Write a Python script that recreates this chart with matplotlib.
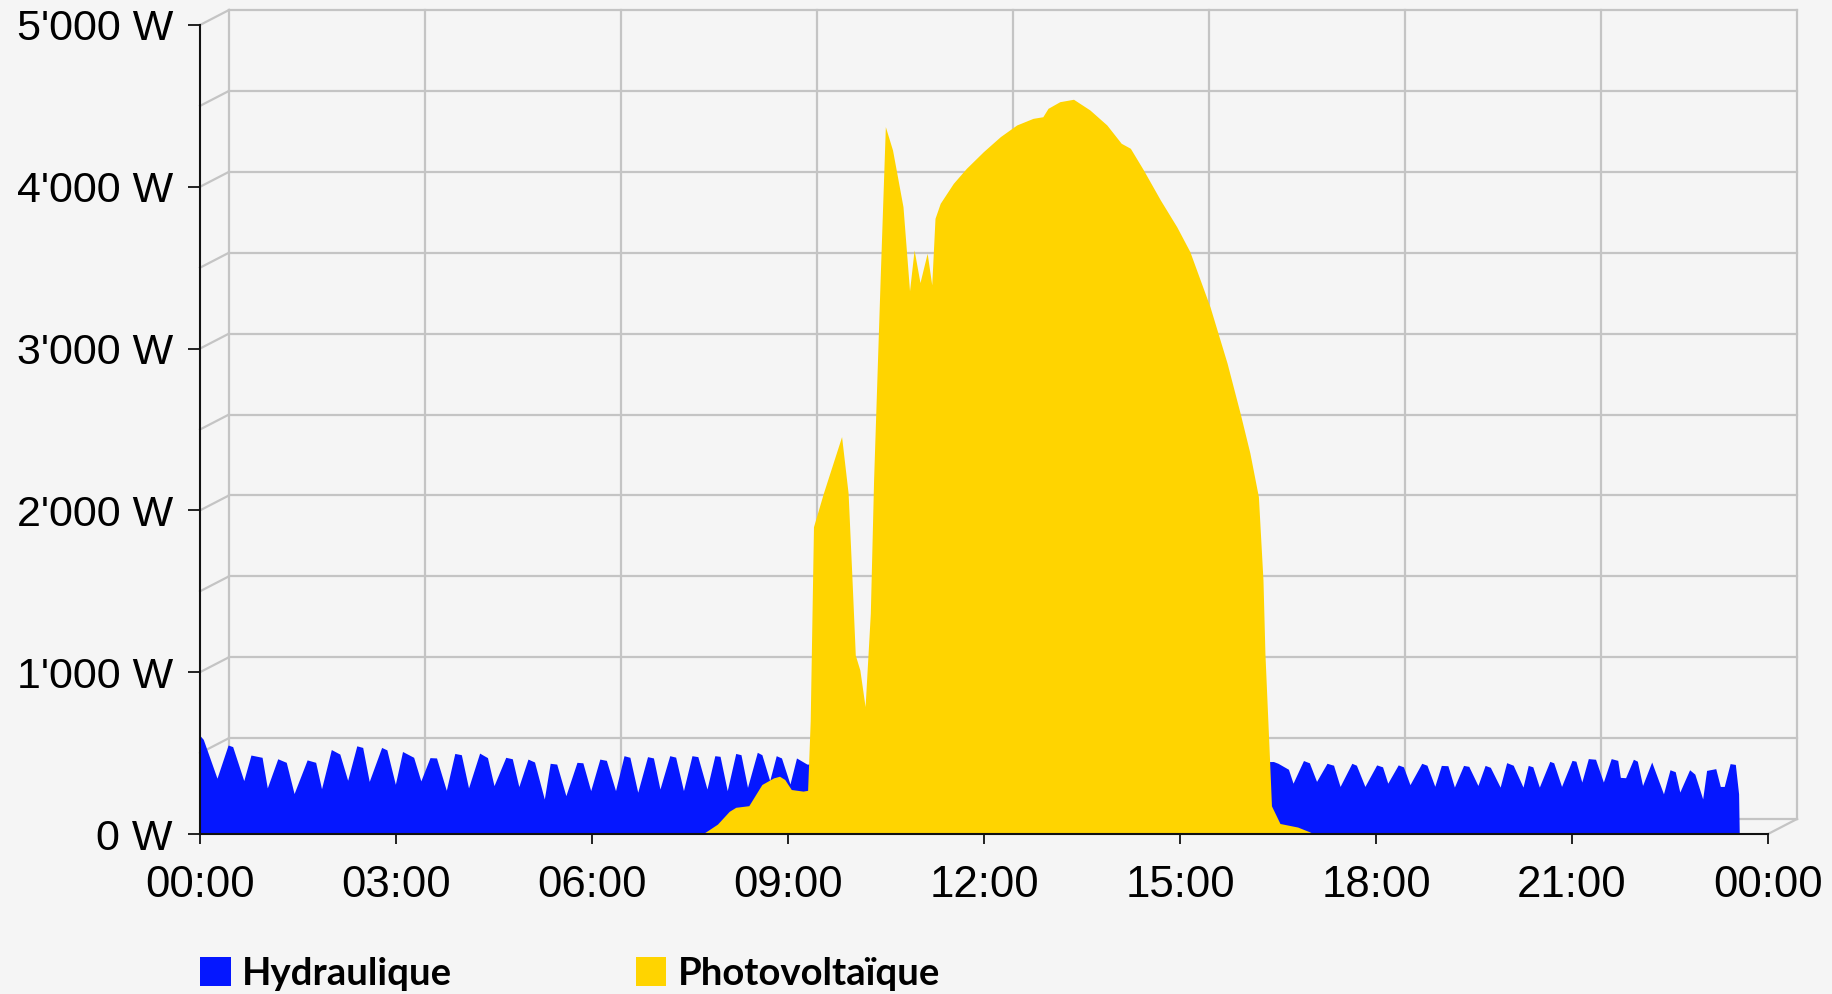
import numpy as np
import matplotlib
matplotlib.use('Agg')
from matplotlib import pyplot as plt
from matplotlib import font_manager
from matplotlib.patches import Patch
from matplotlib.lines import Line2D

# Hydraulique: hour of day, power in W
hydro_h = [0.00, 0.05, 0.26, 0.43, 0.50, 0.67, 0.78, 0.95, 1.03, 1.19, 1.32, 1.44,
           1.64, 1.77, 1.86, 2.01, 2.14, 2.26, 2.40, 2.49, 2.59, 2.78, 2.86, 2.99,
           3.10, 3.27, 3.38, 3.52, 3.62, 3.77, 3.90, 4.00, 4.11, 4.28, 4.40, 4.50,
           4.68, 4.78, 4.88, 5.02, 5.12, 5.27, 5.36, 5.46, 5.60, 5.77, 5.86, 5.98,
           6.12, 6.22, 6.36, 6.49, 6.58, 6.70, 6.85, 6.94, 7.04, 7.19, 7.28, 7.40,
           7.53, 7.62, 7.76, 7.88, 7.96, 8.07, 8.20, 8.28, 8.38, 8.53, 8.60, 8.72,
           8.82, 8.90, 9.03, 9.13, 9.29, 12.90,
           16.43, 16.50, 16.66, 16.73, 16.89, 16.98, 17.09, 17.25, 17.35, 17.45,
           17.63, 17.70, 17.83, 18.01, 18.10, 18.18, 18.34, 18.42, 18.52, 18.70,
           18.78, 18.90, 19.00, 19.10, 19.20, 19.34, 19.42, 19.56, 19.67, 19.75,
           19.90, 20.00, 20.10, 20.25, 20.33, 20.40, 20.50, 20.66, 20.72, 20.84,
           21.00, 21.06, 21.15, 21.25, 21.36, 21.48, 21.60, 21.70, 21.74, 21.82,
           21.94, 22.00, 22.08, 22.22, 22.40, 22.50, 22.58, 22.65, 22.80, 22.88,
           23.00, 23.06, 23.20, 23.27, 23.33, 23.42, 23.50, 23.55, 23.56]
hydro_w = [608, 585, 345, 550, 540, 330, 488, 474, 285, 465, 443, 250,
           458, 443, 280, 522, 494, 332, 545, 535, 325, 535, 520, 307,
           510, 474, 328, 472, 470, 270, 498, 490, 285, 500, 472, 299,
           474, 465, 293, 463, 445, 216, 437, 432, 237, 443, 440, 268,
           463, 455, 268, 484, 474, 258, 478, 470, 278, 484, 475, 268,
           484, 478, 278, 484, 480, 268, 498, 490, 288, 505, 490, 330,
           484, 470, 309, 470, 432, 430,
           448, 437, 400, 314, 454, 440, 325, 437, 425, 294,
           437, 425, 294, 427, 415, 314, 427, 415, 305, 437,
           425, 295, 424, 422, 290, 424, 418, 300, 424, 412,
           290, 441, 425, 290, 424, 415, 290, 449, 440, 294,
           455, 450, 321, 466, 462, 321, 466, 455, 350, 348,
           462, 450, 300, 445, 248, 397, 385, 259, 397, 370,
           217, 393, 404, 294, 294, 435, 430, 248, 0]

# Photovoltaique: hour of day, power in W
pv_h = [7.60, 7.73, 7.92, 8.10, 8.20, 8.40, 8.60, 8.78, 8.87, 8.95, 9.05, 9.23,
        9.30, 9.34, 9.39, 9.54, 9.82, 9.92, 9.98, 10.03, 10.10, 10.18, 10.26, 10.31,
        10.36, 10.41, 10.49, 10.60, 10.76, 10.86, 10.93, 11.02, 11.13, 11.20, 11.25, 11.33,
        11.53, 11.73, 11.99, 12.25, 12.50, 12.75, 12.90, 12.98, 13.16, 13.37, 13.62, 13.88,
        14.10, 14.24, 14.44, 14.70, 14.95, 15.15, 15.46, 15.72, 15.92, 16.07, 16.20, 16.27,
        16.30, 16.37, 16.40, 16.53, 16.80, 16.98, 17.05]
pv_w = [0, 10, 61, 140, 165, 175, 306, 347, 357, 337, 275, 265,
        270, 700, 1899, 2105, 2456, 2107, 1570, 1106, 1013, 787, 1364, 2188,
        2806, 3424, 4372, 4227, 3877, 3357, 3610, 3408, 3589, 3394, 3805, 3898,
        4021, 4114, 4217, 4310, 4382, 4423, 4433, 4485, 4526, 4541, 4475, 4382,
        4269, 4238, 4104, 3918, 3753, 3600, 3257, 2911, 2601, 2354, 2085, 1570,
        1114, 463, 174, 65, 43, 14, 0]

x_ticks = [0, 3, 6, 9, 12, 15, 18, 21, 24]
x_labels = ['00:00', '03:00', '06:00', '09:00', '12:00', '15:00', '18:00', '21:00', '00:00']
y_ticks = [0, 1000, 2000, 3000, 4000, 5000]
y_labels = ["0 W", "1'000 W", "2'000 W", "3'000 W", "4'000 W", "5'000 W"]
series_names = ['Hydraulique', 'Photovoltaïque']
series_colors = ['#0517ff', '#ffd400']

names = {f.name for f in font_manager.fontManager.ttflist}
tick_font = 'Liberation Sans' if 'Liberation Sans' in names else 'DejaVu Sans'
if 'Lato' in names:
    legend_font = dict(family='Lato', weight='bold', size=27.5)
else:
    legend_font = dict(family='DejaVu Sans', size=25)

W, H = 1832, 994
bg = '#f5f5f5'
grid_c = '#c4c4c4'
fig = plt.figure(figsize=(W / 100, H / 100), dpi=100, facecolor=bg)

# front plane (pixels)
x0, x1 = 200, 1768
y0, y1 = 834, 25
dx, dy = 29, 15

ax_back = fig.add_axes([(x0 + dx) / W, 1 - (y0 - dy) / H, (x1 - x0) / W, (y0 - y1) / H])
ax = fig.add_axes([x0 / W, 1 - y0 / H, (x1 - x0) / W, (y0 - y1) / H])

for a in (ax_back, ax):
    a.set_xlim(0, 24)
    a.set_ylim(0, 5000)

# back wall grid
ax_back.set_facecolor('#f7f7f7')
ax_back.set_axis_off()
for v in range(0, 5001, 500):
    ax_back.axhline(v, color=grid_c, lw=1.6, clip_on=False)
for h in x_ticks:
    ax_back.axvline(h, color=grid_c, lw=1.6, clip_on=False)

# side wall diagonals and floor edge
to_fig = fig.transFigure.inverted()
segs = [(0, v) for v in range(0, 5001, 500)] + [(24, 0)]
for (hx, v) in segs:
    p0 = to_fig.transform(ax.transData.transform((hx, v)))
    p1 = to_fig.transform(ax_back.transData.transform((hx, v)))
    ax_back.add_line(Line2D([p0[0], p1[0]], [p0[1], p1[1]], transform=fig.transFigure,
                            color=grid_c, lw=1.6, clip_on=False))

# data
ax.set_facecolor('none')
ax.fill_between(hydro_h, hydro_w, color=series_colors[0], lw=0)
ax.fill_between(pv_h, pv_w, color=series_colors[1], lw=0)

for s in ['top', 'right']:
    ax.spines[s].set_visible(False)
for s in ['left', 'bottom']:
    ax.spines[s].set_linewidth(1.5)
    ax.spines[s].set_color('#111111')

ax.set_xticks(x_ticks)
ax.set_xticklabels(x_labels, fontfamily=tick_font, fontsize=31.5)
ax.set_yticks(y_ticks)
ax.set_yticklabels(y_labels, fontfamily=tick_font, fontsize=31)
ax.tick_params(axis='x', length=7, width=1.3, pad=15, color='#111111')
ax.tick_params(axis='y', length=8.5, width=1.3, pad=11, color='#111111')

handles = [Patch(facecolor=c, edgecolor='none', label=n) for n, c in zip(series_names, series_colors)]
fig.legend(handles=handles, loc='lower left', bbox_to_anchor=(181 / W, -0.016), ncol=2,
           frameon=False, prop=legend_font, handlelength=0.8, handleheight=0.8,
           handletextpad=0.3, columnspacing=4.8, borderaxespad=0.1)

plt.savefig('out.png', dpi=100, facecolor=bg)
